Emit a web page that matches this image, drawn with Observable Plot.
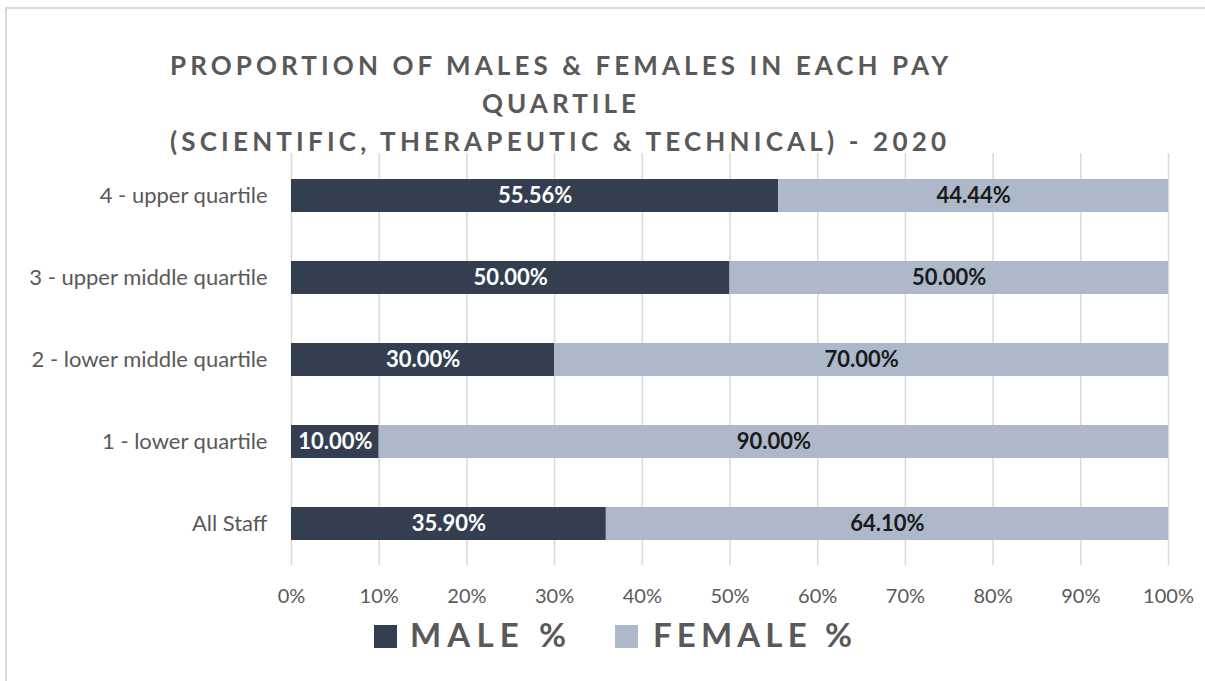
<!DOCTYPE html>
<html>
<head>
<meta charset="utf-8">
<script src="https://cdn.jsdelivr.net/npm/d3@7"></script>
<script src="https://cdn.jsdelivr.net/npm/@observablehq/plot@0.6"></script>
<style>
  html, body { margin: 0; padding: 0; background: #fff; }
  #wrap { position: relative; width: 1205px; height: 681px; overflow: hidden; background: #fff; font-family: Lato, "Open Sans", sans-serif; }
  #frame { position: absolute; left: 5px; top: 7px; width: 1300px; height: 800px; border-left: 2px solid #d9d9d9; border-top: 2px solid #d9d9d9; }
  #chart { position: absolute; left: 0; top: 0; }
  #overlay { position: absolute; left: 0; top: 0; pointer-events: none; }
</style>
</head>
<body>
<div id="wrap">
  <div id="frame"></div>
  <div id="chart"></div>
  <svg id="overlay" width="1205" height="681"></svg>
</div>
<script>
// ---- data ----
const titleLines = [
  "PROPORTION OF MALES & FEMALES IN EACH PAY",
  "QUARTILE",
  "(SCIENTIFIC, THERAPEUTIC & TECHNICAL) - 2020"
];
const categories = [
  "4 - upper quartile",
  "3 - upper middle quartile",
  "2 - lower middle quartile",
  "1 - lower quartile",
  "All Staff"
];
const maleValues = [55.56, 50.00, 30.00, 10.00, 35.90];
const femaleValues = [44.44, 50.00, 70.00, 90.00, 64.10];
const seriesNames = ["MALE %", "FEMALE %"];
const seriesColors = ["#333F50", "#ADB9CA"];
const labelColors = ["#ffffff", "#1a1a1a"];
const xTicks = [0, 10, 20, 30, 40, 50, 60, 70, 80, 90, 100];

// ---- table ----
const rows = categories.flatMap((c, i) => [
  {cat: c, series: seriesNames[0], value: maleValues[i]},
  {cat: c, series: seriesNames[1], value: femaleValues[i]}
]);
const fmt = v => v.toFixed(2) + "%";

const plot = Plot.plot({
  width: 1205,
  height: 681,
  marginLeft: 291,
  marginRight: 37,
  marginTop: 153,
  marginBottom: 116,
  style: {fontFamily: "Lato, 'Open Sans', sans-serif", background: "transparent", overflow: "visible"},
  x: {domain: [0, 100], ticks: xTicks},
  y: {domain: categories, paddingInner: 0.6, paddingOuter: 0.3},
  color: {domain: seriesNames, range: seriesColors},
  marks: [
    Plot.gridX(xTicks, {stroke: "#d9d9d9", strokeOpacity: 1, strokeWidth: 1.5}),
    Plot.axisX({ticks: xTicks, tickFormat: d => d + "%", tickSize: 0, tickPadding: 23, fontSize: 20, color: "#595959", label: null}),
    Plot.axisY({tickSize: 0, tickPadding: 24, fontSize: 22, color: "#595959", label: null}),
    Plot.barX(rows, {x: "value", y: "cat", fill: "series"}),
    Plot.text(rows, Plot.stackX({
      x: "value", y: "cat", z: "series",
      text: d => d.series === seriesNames[0] ? fmt(d.value) : null,
      fill: labelColors[0], fontSize: 22, fontWeight: "bold"
    })),
    Plot.text(rows, Plot.stackX({
      x: "value", y: "cat", z: "series",
      text: d => d.series === seriesNames[1] ? fmt(d.value) : null,
      fill: labelColors[1], fontSize: 22, fontWeight: "bold"
    }))
  ]
});
document.getElementById("chart").appendChild(plot);

// ---- title & legend overlay ----
const ov = d3.select("#overlay");
const titleLayout = [
  {x: 170, y: 75, len: 778},
  {x: 482, y: 113, len: 154},
  {x: 170, y: 151, len: 776}
];
titleLines.forEach((t, i) => {
  ov.append("text")
    .attr("x", titleLayout[i].x).attr("y", titleLayout[i].y)
    .attr("textLength", titleLayout[i].len).attr("lengthAdjust", "spacing")
    .attr("font-family", "Lato, 'Open Sans', sans-serif")
    .attr("font-weight", 700).attr("font-size", 26)
    .attr("fill", "#595959")
    .text(t);
});
const legendLayout = [
  {sx: 374, tx: 410, len: 156},
  {sx: 615, tx: 653, len: 199}
];
seriesNames.forEach((s, i) => {
  ov.append("rect")
    .attr("x", legendLayout[i].sx).attr("y", 625)
    .attr("width", 23).attr("height", 23)
    .attr("fill", seriesColors[i]);
  ov.append("text")
    .attr("x", legendLayout[i].tx).attr("y", 647)
    .attr("textLength", legendLayout[i].len).attr("lengthAdjust", "spacing")
    .attr("font-family", "Lato, 'Open Sans', sans-serif")
    .attr("font-weight", 700).attr("font-size", 33)
    .attr("fill", "#595959")
    .text(s);
});
</script>
</body>
</html>
